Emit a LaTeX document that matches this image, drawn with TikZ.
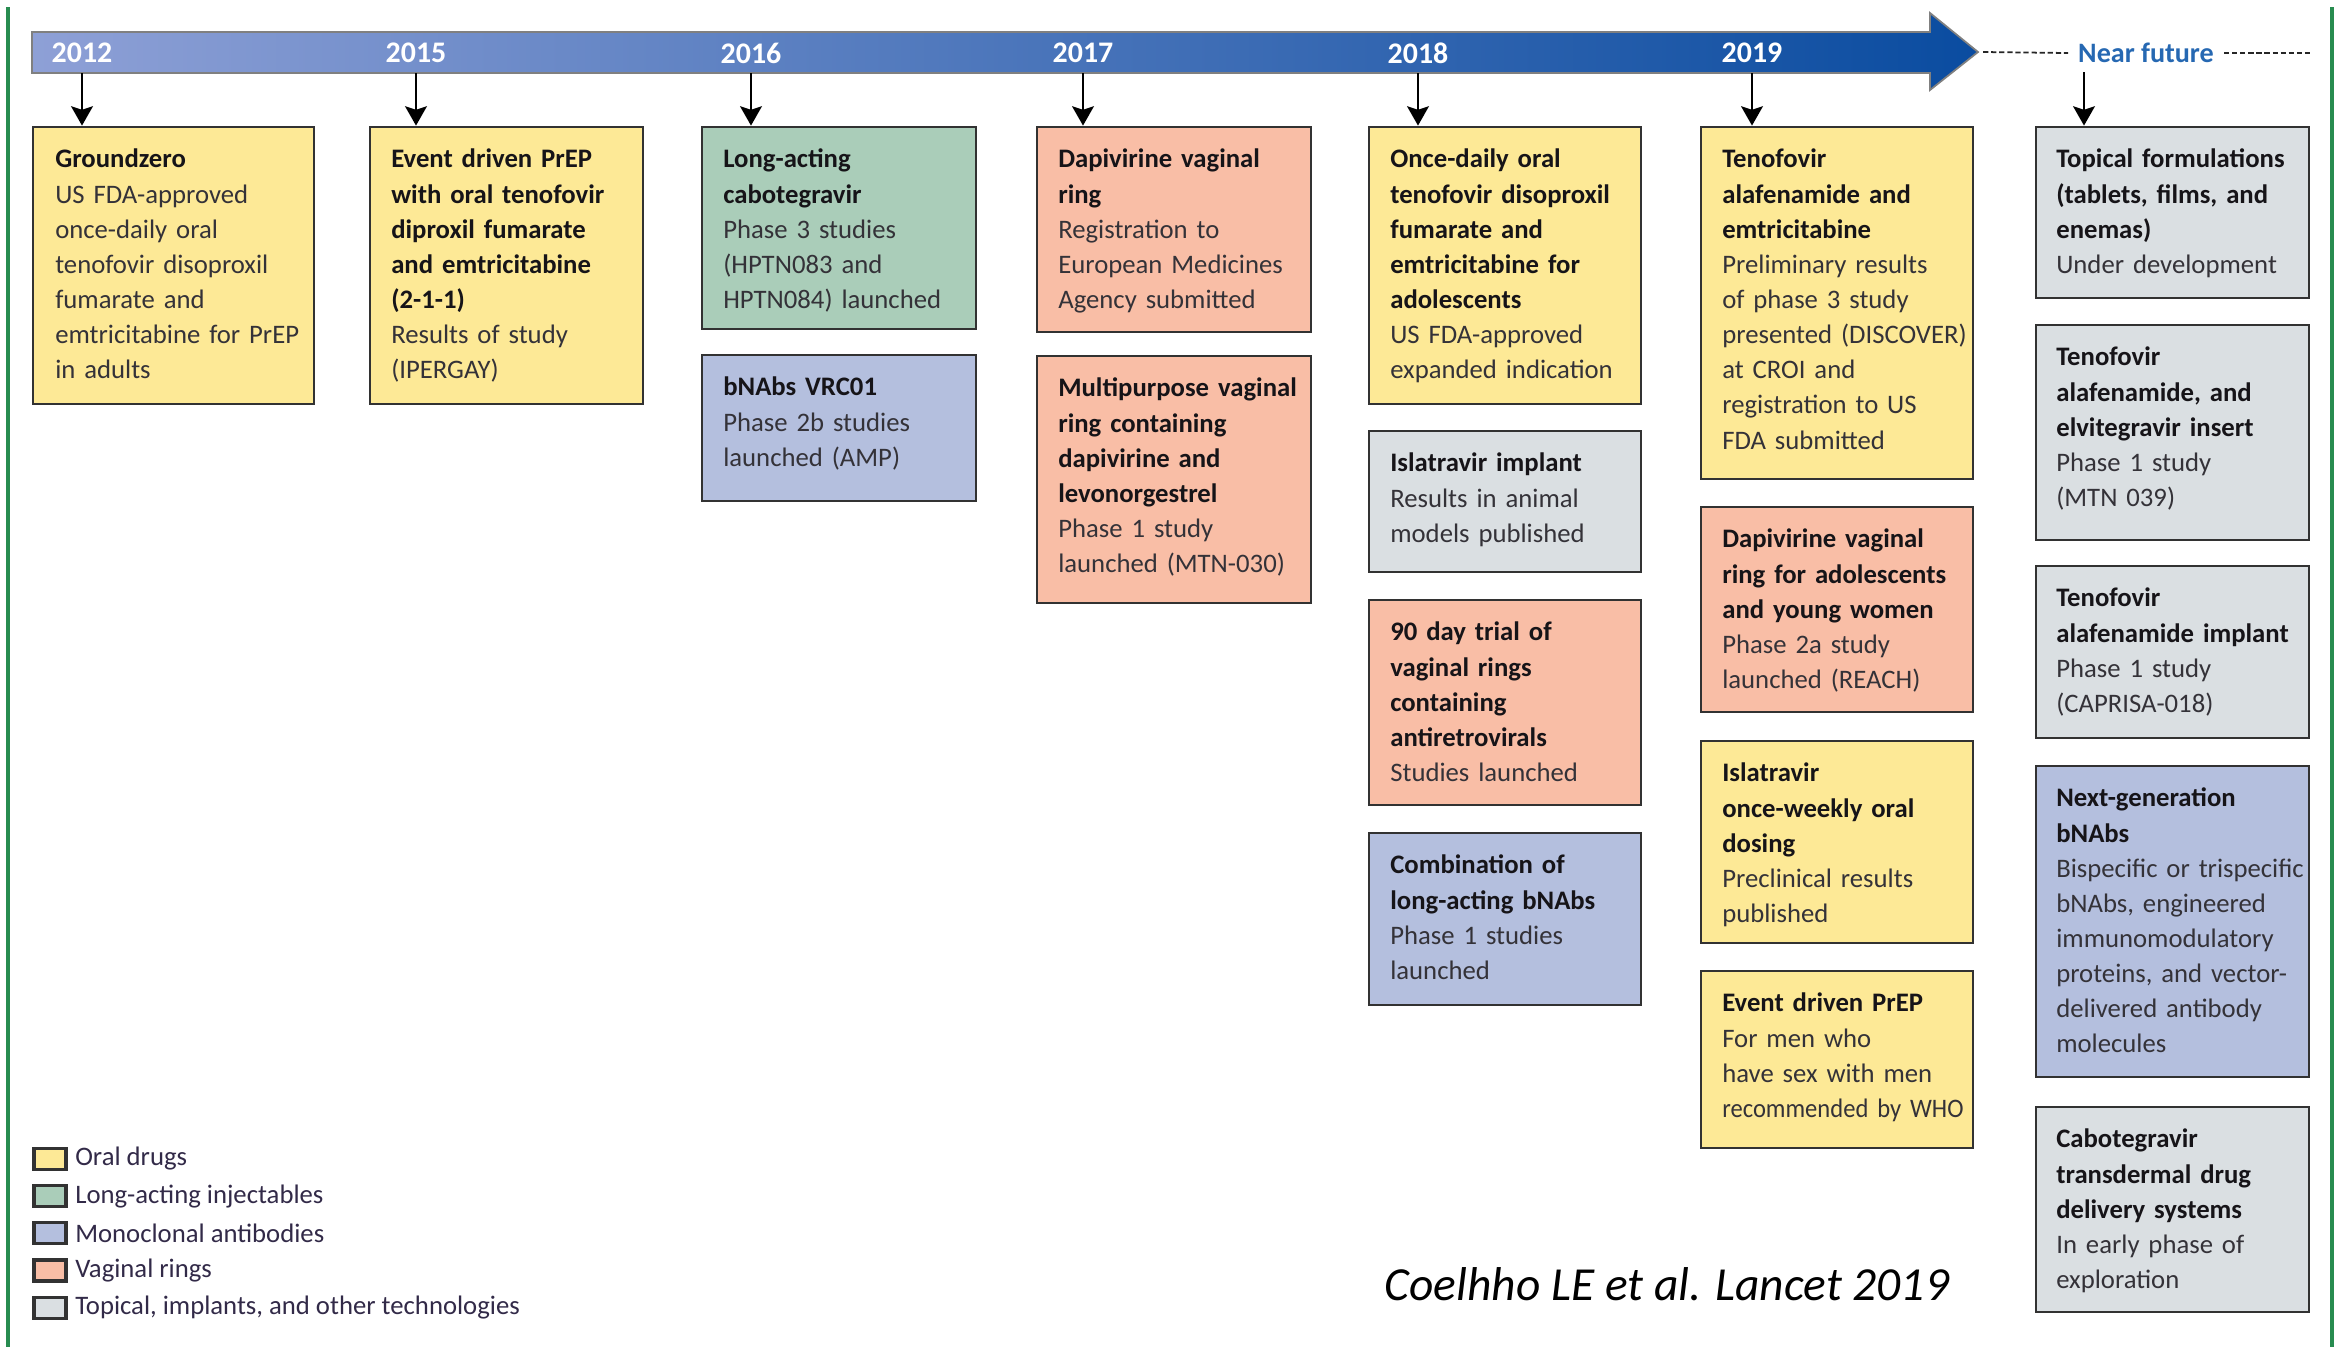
\documentclass[tikz,border=0pt]{standalone}
\usepackage{fontspec}
\setmainfont{Carlito}
\usetikzlibrary{arrows.meta, positioning, fit}
\definecolor{oralfill}{RGB}{253,233,150}
\definecolor{injfill}{RGB}{170,205,185}
\definecolor{mabfill}{RGB}{180,191,222}
\definecolor{ringfill}{RGB}{249,190,166}
\definecolor{techfill}{RGB}{218,223,226}
\definecolor{bordergray}{RGB}{50,50,50}
\definecolor{titledark}{RGB}{22,20,24}
\definecolor{bodygray}{RGB}{52,50,56}
\definecolor{legendink}{RGB}{50,42,72}
\definecolor{barlight}{RGB}{142,160,214}
\definecolor{bardark}{RGB}{10,76,160}
\definecolor{futureblue}{RGB}{38,104,178}
\definecolor{framegreen}{RGB}{40,140,80}
\newcommand{\evtitle}[1]{{\bfseries\color{titledark}#1}}
\tikzset{
    evbox/.style={rectangle, draw=bordergray, line width=0.8pt, inner sep=0pt},
    oralbox/.style={evbox, fill=oralfill},
    injbox/.style={evbox, fill=injfill},
    mabbox/.style={evbox, fill=mabfill},
    ringbox/.style={evbox, fill=ringfill},
    techbox/.style={evbox, fill=techfill},
    evtext/.style={anchor=north west, inner sep=0pt, text width=2.7cm, align=left, font=\fontsize{7.6}{10}\selectfont, text=bodygray, execute at begin node=\strut},
    yearlabel/.style={font=\fontsize{8.5}{10}\selectfont\bfseries, text=white, inner sep=1pt},
    yeararrow/.style={-{Stealth[length=5.5pt, width=6.2pt, inset=1pt]}, line width=0.6pt, black},
    legendkey/.style={rectangle, draw=bordergray, line width=0.9pt, minimum width=0.32cm, minimum height=0.21cm, inner sep=0pt},
    legendtext/.style={font=\fontsize{7.6}{10}\selectfont, text=legendink, inner sep=0pt},
}

\begin{document}
\begin{tikzpicture}[
    futuredash/.style={black!85, line width=0.5pt, dash pattern=on 1.5pt off 0.8pt},
    frameline/.style={framegreen, line width=1pt}
]
\useasboundingbox (0,0) rectangle (23.46,-13.47);

% frame lines left and right
\draw[frameline] (0.08,-0.07) -- (0.08,-13.47);
\draw[frameline] (23.32,-0.07) -- (23.32,-13.47);

% timeline bar with arrow head
\shade[left color=barlight, right color=bardark, draw=black!50, line width=0.5pt]
    (0.32,-0.32) -- (19.30,-0.32) -- (19.30,-0.13) -- (19.78,-0.52) -- (19.30,-0.90) -- (19.30,-0.73) -- (0.32,-0.73) -- cycle;
\coordinate (bar-bottom) at (0,-0.73);
\coordinate (bar-tip) at (19.78,-0.52);

% year labels
\node[yearlabel] (y2012) at (0.82,-0.53) {2012};
\node[yearlabel] (y2015) at (4.16,-0.53) {2015};
\node[yearlabel] (y2016) at (7.51,-0.53) {2016};
\node[yearlabel] (y2017) at (10.83,-0.53) {2017};
\node[yearlabel] (y2018) at (14.18,-0.53) {2018};
\node[yearlabel] (y2019) at (17.52,-0.53) {2019};

% near future
\node[font=\fontsize{8}{10}\selectfont\bfseries, text=futureblue, inner sep=1pt] (nearfuture) at (21.46,-0.53) {Near future};
\coordinate (future-end) at (23.12,-0.53);
\coordinate (future-drop) at (20.84,-0.72);
\draw[futuredash] ([xshift=0.05cm]bar-tip) -- ([xshift=-0.06cm]nearfuture.west);
\draw[futuredash] ([xshift=0.06cm]nearfuture.east) -- (future-end);

% 2012
\node[oralbox, fit={(0.33,-1.27) (3.14,-4.04)}] (gz) {};
\node[evtext] (gz-t) at ([shift={(0.23,-0.17)}]gz.north west) {\evtitle{Groundzero}\\US FDA-approved\\once-daily oral\\tenofovir disoproxil\\fumarate and\\emtricitabine for PrEP\\in adults};

% 2015
\node[oralbox, fit={(3.70,-1.27) (6.43,-4.04)}] (ipergay) {};
\node[evtext] (ipergay-t) at ([shift={(0.22,-0.17)}]ipergay.north west) {\evtitle{Event driven PrEP\\with oral tenofovir\\diproxil fumarate\\and emtricitabine\\(2-1-1)}\\Results of study\\(IPERGAY)};

% 2016
\node[injbox, fit={(7.02,-1.27) (9.76,-3.29)}] (cab) {};
\node[evtext] (cab-t) at ([shift={(0.22,-0.17)}]cab.north west) {\evtitle{Long-acting\\cabotegravir}\\Phase 3 studies\\(HPTN083 and\\HPTN084) launched};
\node[mabbox, fit={(7.02,-3.55) (9.76,-5.01)}] (vrc01) {};
\node[evtext] (vrc01-t) at ([shift={(0.22,-0.17)}]vrc01.north west) {\evtitle{bNAbs VRC01}\\Phase 2b studies\\launched (AMP)};

% 2017
\node[ringbox, fit={(10.37,-1.27) (13.11,-3.32)}] (dvr) {};
\node[evtext] (dvr-t) at ([shift={(0.22,-0.17)}]dvr.north west) {\evtitle{Dapivirine vaginal\\ring}\\Registration to\\European Medicines\\Agency submitted};
\node[ringbox, fit={(10.37,-3.56) (13.11,-6.03)}] (mpt) {};
\node[evtext] (mpt-t) at ([shift={(0.22,-0.17)}]mpt.north west) {\evtitle{Multipurpose vaginal\\ring containing\\dapivirine and\\levonorgestrel}\\Phase 1 study\\launched (MTN-030)};

% 2018
\node[oralbox, fit={(13.69,-1.27) (16.41,-4.04)}] (tdfado) {};
\node[evtext] (tdfado-t) at ([shift={(0.22,-0.17)}]tdfado.north west) {\evtitle{Once-daily oral\\tenofovir disoproxil\\fumarate and\\emtricitabine for\\adolescents}\\US FDA-approved\\expanded indication};
\node[techbox, fit={(13.69,-4.31) (16.41,-5.72)}] (islimp) {};
\node[evtext] (islimp-t) at ([shift={(0.22,-0.17)}]islimp.north west) {\evtitle{Islatravir implant}\\Results in animal\\models published};
\node[ringbox, fit={(13.69,-6.00) (16.41,-8.05)}] (ring90) {};
\node[evtext] (ring90-t) at ([shift={(0.22,-0.17)}]ring90.north west) {\evtitle{90 day trial of\\vaginal rings\\containing\\antiretrovirals}\\Studies launched};
\node[mabbox, fit={(13.69,-8.33) (16.41,-10.05)}] (bnabcomb) {};
\node[evtext] (bnabcomb-t) at ([shift={(0.22,-0.17)}]bnabcomb.north west) {\evtitle{Combination of\\long-acting bNAbs}\\Phase 1 studies\\launched};

% 2019
\node[oralbox, fit={(17.01,-1.27) (19.73,-4.79)}] (discover) {};
\node[evtext] (discover-t) at ([shift={(0.22,-0.17)}]discover.north west) {\evtitle{Tenofovir\\alafenamide and\\emtricitabine}\\Preliminary results\\of phase 3 study\\presented (DISCOVER)\\at CROI and\\registration to US\\FDA submitted};
\node[ringbox, fit={(17.01,-5.07) (19.73,-7.12)}] (reach) {};
\node[evtext] (reach-t) at ([shift={(0.22,-0.17)}]reach.north west) {\evtitle{Dapivirine vaginal\\ring for adolescents\\and young women}\\Phase 2a study\\launched (REACH)};
\node[oralbox, fit={(17.01,-7.41) (19.73,-9.43)}] (islweekly) {};
\node[evtext] (islweekly-t) at ([shift={(0.22,-0.17)}]islweekly.north west) {\evtitle{Islatravir\\once-weekly oral\\dosing}\\Preclinical results\\published};
\node[oralbox, fit={(17.01,-9.71) (19.73,-11.48)}] (edprep) {};
\node[evtext] (edprep-t) at ([shift={(0.22,-0.17)}]edprep.north west) {\evtitle{Event driven PrEP}\\For men who\\have sex with men\\{\addfontfeature{FakeStretch=0.92}recommended by WHO}};

% near future
\node[techbox, fit={(20.36,-1.27) (23.09,-2.98)}] (topical) {};
\node[evtext] (topical-t) at ([shift={(0.21,-0.17)}]topical.north west) {\evtitle{Topical formulations\\(tablets, films, and\\enemas)}\\Under development};
\node[techbox, fit={(20.36,-3.25) (23.09,-5.40)}] (mtn039) {};
\node[evtext] (mtn039-t) at ([shift={(0.21,-0.17)}]mtn039.north west) {\evtitle{Tenofovir\\alafenamide, and\\elvitegravir insert}\\Phase 1 study\\(MTN 039)};
\node[techbox, fit={(20.36,-5.66) (23.09,-7.38)}] (tafimp) {};
\node[evtext] (tafimp-t) at ([shift={(0.21,-0.17)}]tafimp.north west) {\evtitle{Tenofovir\\alafenamide implant}\\Phase 1 study\\(CAPRISA-018)};
\node[mabbox, fit={(20.36,-7.66) (23.09,-10.77)}] (nextbnab) {};
\node[evtext] (nextbnab-t) at ([shift={(0.21,-0.17)}]nextbnab.north west) {\evtitle{Next-generation\\bNAbs}\\Bispecific or trispecific\\bNAbs, engineered\\immunomodulatory\\proteins, and vector-\\delivered antibody\\molecules};
\node[techbox, fit={(20.36,-11.07) (23.09,-13.12)}] (cabtd) {};
\node[evtext] (cabtd-t) at ([shift={(0.21,-0.17)}]cabtd.north west) {\evtitle{Cabotegravir\\transdermal drug\\delivery systems}\\In early phase of\\exploration};

% arrows from the timeline to the first box of each year
\draw[yeararrow] (y2012 |- bar-bottom) -- (y2012 |- gz.north);
\draw[yeararrow] (y2015 |- bar-bottom) -- (y2015 |- ipergay.north);
\draw[yeararrow] (y2016 |- bar-bottom) -- (y2016 |- cab.north);
\draw[yeararrow] (y2017 |- bar-bottom) -- (y2017 |- dvr.north);
\draw[yeararrow] (y2018 |- bar-bottom) -- (y2018 |- tdfado.north);
\draw[yeararrow] (y2019 |- bar-bottom) -- (y2019 |- discover.north);
\draw[yeararrow] (future-drop) -- (future-drop |- topical.north);

% legend
\node[legendkey, fill=oralfill] (key-oral) at (0.50,-11.59) {};
\node[legendkey, fill=injfill, below=0.13cm of key-oral] (key-inj) {};
\node[legendkey, fill=mabfill, below=0.13cm of key-inj] (key-mab) {};
\node[legendkey, fill=ringfill, below=0.13cm of key-mab] (key-ring) {};
\node[legendkey, fill=techfill, below=0.13cm of key-ring] (key-tech) {};
\node[legendtext, right=0.07cm of key-oral] (lab-oral) {Oral drugs};
\node[legendtext, right=0.07cm of key-inj] (lab-inj) {Long-acting injectables};
\node[legendtext, right=0.07cm of key-mab] (lab-mab) {Monoclonal antibodies};
\node[legendtext, right=0.07cm of key-ring] (lab-ring) {Vaginal rings};
\node[legendtext, right=0.07cm of key-tech] (lab-tech) {Topical, implants, and other technologies};

% citation
\node[font=\fontsize{13.5}{16}\selectfont\itshape] (cite) at (16.67,-12.84) {Coelhho LE et al. Lancet 2019};

\end{tikzpicture}
\end{document}
